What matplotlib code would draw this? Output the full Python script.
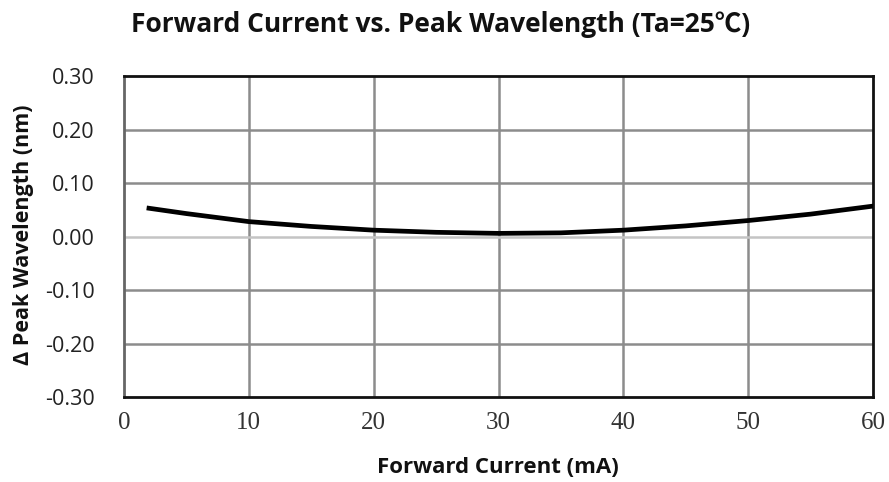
import numpy as np
import matplotlib.pyplot as plt

# Forward current (mA) vs. shift of peak wavelength (nm)
current = [2, 5, 10, 15, 20, 25, 30, 35, 40, 45, 50, 55, 60]
delta_wl = [0.053, 0.043, 0.028, 0.019, 0.012, 0.008, 0.006, 0.007, 0.012, 0.020, 0.030, 0.042, 0.057]

x_ticks = [0, 10, 20, 30, 40, 50, 60]
y_ticks = [-0.30, -0.20, -0.10, 0.00, 0.10, 0.20, 0.30]

fig = plt.figure(figsize=(8.89, 4.82), dpi=100)
ax = fig.add_axes([0.1395, 0.1763, 0.8425, 0.6657])

for x in x_ticks[1:-1]:
    ax.axvline(x, color='#8c8c8c', lw=1.8, zorder=1)
for y in y_ticks[1:-1]:
    c = '#c4c4c4' if y == 0 else '#8c8c8c'
    ax.axhline(y, color=c, lw=1.8, zorder=1)

ax.plot(current, delta_wl, color='black', lw=3.4, zorder=3)

ax.set_xlim(0, 60)
ax.set_ylim(-0.30, 0.30)
ax.set_xticks(x_ticks)
ax.set_yticks(y_ticks)
ax.set_yticklabels([f'{v:.2f}' for v in y_ticks])
ax.tick_params(length=0)
ax.tick_params(axis='x', pad=11, labelsize=18, labelcolor='#333333')
ax.tick_params(axis='y', pad=21, labelsize=15.5, labelcolor='#222222')
for lab in ax.get_xticklabels():
    lab.set_family('Liberation Serif')
for lab in ax.get_yticklabels():
    lab.set_family('Open Sans')
for s in ax.spines.values():
    s.set_color('#111111')
    s.set_linewidth(2)
ax.spines['left'].set_color('#666666')

fig.text(0.560, 0.0187, 'Forward Current (mA)', ha='center', va='baseline',
         fontsize=16, fontweight='bold', family='Open Sans', color='#111111')
fig.text(0.026, 0.5124, 'Δ Peak Wavelength (nm)', ha='center', va='center', rotation=90,
         fontsize=15.5, fontweight='bold', family='Open Sans', color='#111111')
fig.text(0.496, 0.9336, 'Forward Current vs. Peak Wavelength (Ta=25℃)', ha='center', va='baseline',
         fontsize=19, fontweight='bold', family=['Open Sans', 'Noto Sans CJK SC'], color='#111111')

fig.savefig('out.png', dpi=100)
